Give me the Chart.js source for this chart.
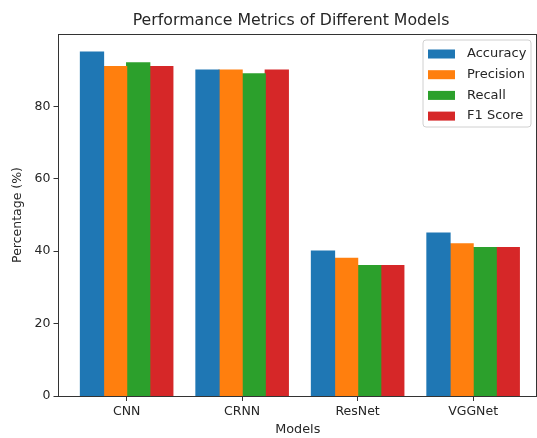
<!DOCTYPE html>
<html>
<head>
<meta charset="utf-8">
<script src="https://cdn.jsdelivr.net/npm/chart.js@4"></script>
<style>
  html, body { margin: 0; padding: 0; background: #fff; }
  #wrap { width: 537px; height: 438px; position: relative; }
</style>
</head>
<body>
<div id="wrap"><canvas id="c"></canvas></div>
<script>
const categories = ["CNN", "CRNN", "ResNet", "VGGNet"];
const seriesNames = ["Accuracy", "Precision", "Recall", "F1 Score"];
const accuracy  = [95, 90, 40, 45];
const precision = [91, 90, 38, 42];
const recall    = [92, 89, 36, 41];
const f1score   = [91, 90, 36, 41];
const yTicks = [0, 20, 40, 60, 80];
const colors = ["#1f77b4", "#ff7f0e", "#2ca02c", "#d62728"];
const chartTitle = "Performance Metrics of Different Models";

const FONT = "'DejaVu Sans', sans-serif";
const TXT = "#262626";

const allSeries = [accuracy, precision, recall, f1score];
const datasets = allSeries.map((vals, k) => ({
  label: seriesNames[k],
  data: vals.map((v, i) => ({ x: i, y: v })),
  backgroundColor: colors[k],
  borderWidth: 0,
  inflateAmount: 0.6,
  categoryPercentage: 0.8,
  barPercentage: 1.0
}));

const framePlugin = {
  id: 'frame',
  afterDatasetsDraw(chart) {
    const { ctx, chartArea: a } = chart;
    ctx.save();
    ctx.strokeStyle = '#333';
    ctx.lineWidth = 1;
    ctx.beginPath();
    ctx.moveTo(a.left, a.top + 0.5);
    ctx.lineTo(a.right, a.top + 0.5);
    ctx.moveTo(a.right - 0.5, a.top);
    ctx.lineTo(a.right - 0.5, a.bottom);
    ctx.stroke();
    ctx.restore();
  },
  afterDraw(chart) {
    const { ctx } = chart;
    ctx.save();
    // title
    ctx.font = "15.75px " + FONT;
    ctx.fillStyle = TXT;
    ctx.textAlign = 'center';
    ctx.textBaseline = 'middle';
    ctx.fillText(chartTitle, 291, 21);
    // legend
    const x0 = 423, y0 = 40, w = 108, h = 87;
    ctx.fillStyle = 'rgba(255,255,255,0.85)';
    ctx.strokeStyle = '#d0d0d0';
    ctx.lineWidth = 1;
    const r = 3;
    ctx.beginPath();
    ctx.moveTo(x0 + r, y0);
    ctx.arcTo(x0 + w, y0, x0 + w, y0 + h, r);
    ctx.arcTo(x0 + w, y0 + h, x0, y0 + h, r);
    ctx.arcTo(x0, y0 + h, x0, y0, r);
    ctx.arcTo(x0, y0, x0 + w, y0, r);
    ctx.closePath();
    ctx.fill();
    ctx.stroke();
    ctx.font = "13px " + FONT;
    ctx.textAlign = 'left';
    ctx.textBaseline = 'middle';
    chart.data.datasets.forEach((ds, i) => {
      const cy = y0 + 14 + i * 20.7;
      ctx.fillStyle = ds.backgroundColor;
      ctx.fillRect(428, cy - 4.5, 27, 9);
      ctx.fillStyle = TXT;
      ctx.fillText(ds.label, 467, cy);
    });
    ctx.restore();
  }
};

new Chart(document.getElementById('c'), {
  type: 'bar',
  data: { datasets },
  plugins: [framePlugin],
  options: {
    responsive: true,
    maintainAspectRatio: false,
    animation: false,
    layout: { padding: { top: 34, left: 0, right: 0, bottom: 0 } },
    plugins: {
      legend: { display: false },
      tooltip: { enabled: false },
      title: { display: false }
    },
    scales: {
      x: {
        type: 'linear',
        offset: false,
        min: -0.59,
        max: 3.553,
        afterBuildTicks: axis => { axis.ticks = categories.map((c, i) => ({ value: i })); },
        afterFit: axis => { axis.height = 42; },
        grid: { offset: false, drawOnChartArea: false, drawTicks: true, tickLength: 5, color: '#333' },
        border: { display: true, color: '#333', width: 1 },
        ticks: {
          autoSkip: false,
          maxRotation: 0,
          padding: 3,
          color: TXT,
          font: { family: FONT, size: 12.5 },
          callback: v => categories[v]
        },
        title: {
          display: true,
          text: "Models",
          color: TXT,
          font: { family: FONT, size: 12.8 },
          padding: { top: 0, bottom: 0.5 }
        }
      },
      y: {
        min: 0,
        max: 100,
        afterBuildTicks: axis => { axis.ticks = yTicks.map(v => ({ value: v })); },
        afterFit: axis => { axis.width = 58.5; },
        grid: { drawOnChartArea: false, drawTicks: true, tickLength: 5, color: '#333' },
        border: { display: true, color: '#333', width: 1 },
        ticks: {
          padding: 3,
          color: TXT,
          font: { family: FONT, size: 12.5 }
        },
        title: {
          display: true,
          text: "Percentage (%)",
          color: TXT,
          font: { family: FONT, size: 12.5 },
          padding: { top: 10.5, bottom: 0 }
        }
      }
    }
  }
});
</script>
</body>
</html>
